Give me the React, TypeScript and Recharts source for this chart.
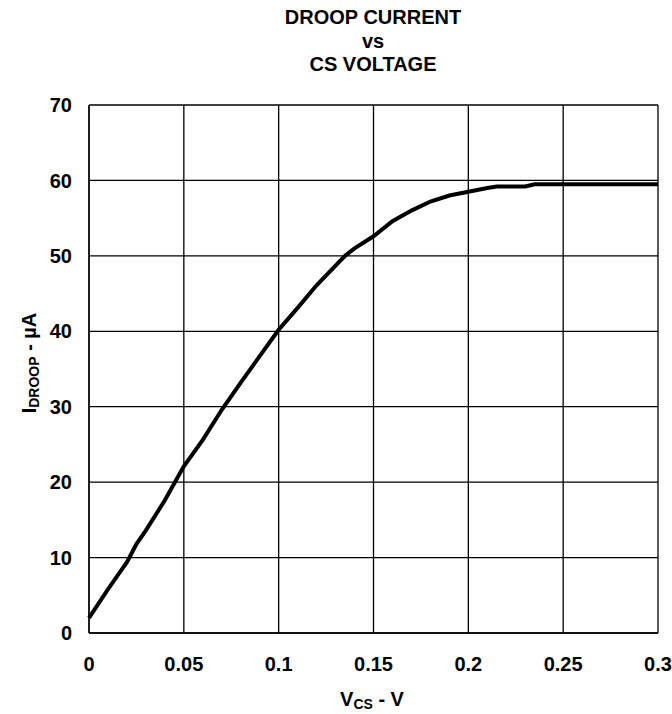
import React from 'react';
import { LineChart, Line, XAxis, YAxis, CartesianGrid } from 'recharts';

const vcs = [
  0, 0.005, 0.01, 0.015, 0.02, 0.025, 0.03, 0.04, 0.05, 0.06, 0.07, 0.08, 0.09, 0.1, 0.11, 0.12,
  0.13, 0.135, 0.14, 0.15, 0.16, 0.17, 0.18, 0.19, 0.2, 0.21, 0.215, 0.23, 0.235, 0.25, 0.26, 0.27,
  0.28, 0.29, 0.3,
];
const idroop = [
  2.0, 3.9, 5.8, 7.6, 9.4, 11.8, 13.6, 17.6, 22.1, 25.6, 29.6, 33.2, 36.7, 40.2, 43.1, 46.1,
  48.7, 50.0, 51.0, 52.6, 54.6, 56.0, 57.2, 58.0, 58.5, 59.0, 59.2, 59.2, 59.5, 59.5, 59.5, 59.5,
  59.5, 59.5, 59.5,
];
const xTicks = [0, 0.05, 0.1, 0.15, 0.2, 0.25, 0.3];
const yTicks = [0, 10, 20, 30, 40, 50, 60, 70];
const titleLines = ['DROOP CURRENT', 'vs', 'CS VOLTAGE'];

const data = vcs.map((v, i) => ({ v, i: idroop[i] }));

const font = '"Liberation Sans", Arial, Helvetica, sans-serif';
const tick = { fill: '#000', fontSize: 20, fontWeight: 700, fontFamily: font };

export default function App() {
  return (
    <div style={{ position: 'absolute', left: 0, top: 0, width: 672, height: 714, background: '#fff', fontFamily: font }}>
      {/* title */}
      <div
        style={{
          position: 'absolute', left: 248, width: 250, top: 6, textAlign: 'center',
          fontSize: 20, fontWeight: 700, lineHeight: '23.5px',
        }}
      >
        {titleLines.map((t) => (
          <div key={t}>{t}</div>
        ))}
      </div>

      <LineChart width={672} height={714} data={data} margin={{ top: 105, right: 14, bottom: 41, left: 29 }}>
        <CartesianGrid stroke="#000" strokeWidth={1.3} horizontalValues={yTicks} verticalValues={xTicks} />
        <XAxis
          dataKey="v"
          type="number"
          domain={[0, 0.3]}
          ticks={xTicks}
          height={40}
          tickSize={0}
          tickMargin={24}
          tick={tick}
          interval={0}
          axisLine={{ stroke: '#000', strokeWidth: 1.3 }}
        />
        <YAxis
          type="number"
          domain={[0, 70]}
          ticks={yTicks}
          width={60}
          tickSize={0}
          tickMargin={17}
          tick={tick}
          interval={0}
          axisLine={{ stroke: '#000', strokeWidth: 1.3 }}
        />
        <Line dataKey="i" type="linear" stroke="#000" strokeWidth={4} dot={false} isAnimationActive={false} />
      </LineChart>

      {/* axis titles */}
      <div style={{ position: 'absolute', left: 272, width: 200, top: 688, textAlign: 'center', fontSize: 20, fontWeight: 700, lineHeight: '22px' }}>
        V<sub style={{ fontSize: 14, verticalAlign: '-3px', lineHeight: 0 }}>CS</sub> - V
      </div>
      <div
        style={{
          position: 'absolute', left: 29, top: 363, width: 200, marginLeft: -100, marginTop: -11,
          textAlign: 'center', fontSize: 20, fontWeight: 700, lineHeight: '22px',
          transform: 'rotate(-90deg)',
        }}
      >
        I<sub style={{ fontSize: 14, verticalAlign: '-3px', lineHeight: 0 }}>DROOP</sub> - µA
      </div>
    </div>
  );
}
